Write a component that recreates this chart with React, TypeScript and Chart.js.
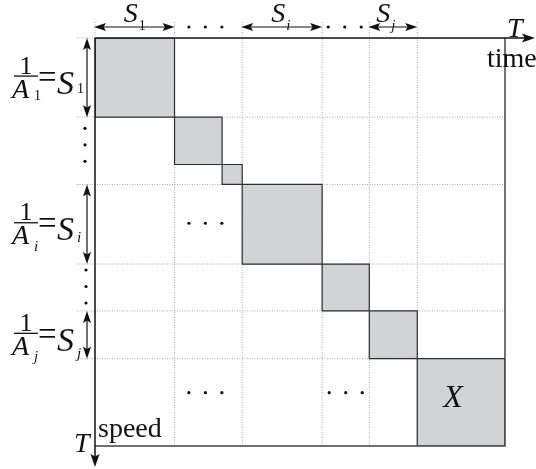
import { useEffect, useRef } from "react";
import { Chart, registerables } from "chart.js";

Chart.register(...registerables);

// Sizes of the diagonal blocks (time / speed units, total = T = 100)
const blockSizes = [19.4, 11.6, 4.9, 19.5, 11.5, 11.7, 21.4];
// Boundary indices that carry a dotted grid line
const gridBoundaries = [1, 3, 4, 5, 6];
// Blocks annotated with double arrows and their subscripts
const annotatedBlocks = [0, 3, 5];
const subscripts = ["1", "i", "j"];
const lastBlockLabel = "X";
const axisTime = "time";
const axisSpeed = "speed";
const axisSymbol = "T";

const boundaries: number[] = blockSizes.reduce(
  (acc: number[], s) => [...acc, acc[acc.length - 1] + s],
  [0]
);
const TOTAL = boundaries[boundaries.length - 1];

const SERIF = '"Liberation Serif", serif';

function arrowHead(
  ctx: CanvasRenderingContext2D,
  tx: number,
  ty: number,
  dx: number,
  dy: number,
  len: number,
  half: number
) {
  const px = -dy;
  const py = dx;
  ctx.beginPath();
  ctx.moveTo(tx, ty);
  ctx.lineTo(tx - dx * len + px * half, ty - dy * len + py * half);
  ctx.lineTo(tx - dx * len * 0.8, ty - dy * len * 0.8);
  ctx.lineTo(tx - dx * len - px * half, ty - dy * len - py * half);
  ctx.closePath();
  ctx.fill();
}

function dots(ctx: CanvasRenderingContext2D, cx: number, cy: number, horizontal: boolean) {
  const gap = 16.5;
  for (let k = -1; k <= 1; k++) {
    ctx.beginPath();
    ctx.arc(horizontal ? cx + k * gap : cx, horizontal ? cy : cy + k * gap, 1.6, 0, Math.PI * 2);
    ctx.fill();
  }
}

const subFont = (s: string) => (s === "1" ? `14px ${SERIF}` : `italic 15px ${SERIF}`);

const annotationPlugin = {
  id: "annotations",
  afterDatasetsDraw(chart: any) {
    const { ctx, scales } = chart;
    const X = (v: number) => scales.x.getPixelForValue(v);
    const Y = (v: number) => scales.y.getPixelForValue(v);
    const x0 = X(0);
    const y0 = Y(0);
    const W = chart.width;
    const H = chart.height;
    ctx.save();
    ctx.fillStyle = "#111";
    ctx.strokeStyle = "#111";

    // time axis (top) with arrow
    ctx.lineWidth = 1.5;
    ctx.beginPath();
    ctx.moveTo(x0, y0);
    ctx.lineTo(W - 10, y0);
    ctx.stroke();
    arrowHead(ctx, W - 1, y0, 1, 0, 13, 4.5);
    // speed axis (left) with arrow
    ctx.beginPath();
    ctx.moveTo(x0, y0);
    ctx.lineTo(x0, H - 10);
    ctx.stroke();
    arrowHead(ctx, x0, H - 2, 0, 1, 13, 4.5);

    // axis labels
    ctx.textBaseline = "alphabetic";
    ctx.textAlign = "left";
    ctx.font = `italic 28px ${SERIF}`;
    ctx.fillText(axisSymbol, X(TOTAL) + 2, y0 - 1);
    ctx.fillText(axisSymbol, x0 - 21, Y(TOTAL) + 6);
    ctx.font = `28px ${SERIF}`;
    ctx.fillText(axisTime, X(TOTAL) - 18, y0 + 29);
    ctx.fillText(axisSpeed, x0 + 3, Y(TOTAL) - 9);

    // top double arrows with S labels
    const topY = y0 - 11;
    const leftX = x0 - 8;
    const aSubDy: Record<string, number> = { "1": 22, i: 27, j: 26 };
    const sSubDy: Record<string, number> = { "1": 15, i: 18, j: 23 };
    ctx.lineWidth = 1.2;
    annotatedBlocks.forEach((bi, k) => {
      const a = X(boundaries[bi]);
      const b = X(boundaries[bi + 1]);
      ctx.beginPath();
      ctx.moveTo(a + 8, topY);
      ctx.lineTo(b - 8, topY);
      ctx.stroke();
      arrowHead(ctx, a - 1, topY, -1, 0, 12, 4);
      arrowHead(ctx, b, topY, 1, 0, 12, 4);
      const sub = subscripts[k];
      const cx = (a + b) / 2 - (k === 2 ? 10 : 4);
      ctx.font = `italic 28px ${SERIF}`;
      ctx.textAlign = "center";
      ctx.fillText("S", cx, topY - 5);
      ctx.textAlign = "left";
      ctx.font = subFont(sub);
      ctx.fillText(sub, cx + 8, topY + 3);

      // left double arrows with 1/A = S labels
      const ta = Y(boundaries[bi]);
      const tb = Y(boundaries[bi + 1]);
      ctx.beginPath();
      ctx.moveTo(leftX, ta + 8);
      ctx.lineTo(leftX, tb - 8);
      ctx.stroke();
      arrowHead(ctx, leftX, ta, 0, -1, 12, 4);
      arrowHead(ctx, leftX, tb, 0, 1, 12, 4);
      const ym = (ta + tb) / 2;
      ctx.font = `26px ${SERIF}`;
      ctx.textAlign = "center";
      ctx.fillText("1", 26, ym - 4);
      ctx.lineWidth = 1.3;
      ctx.beginPath();
      ctx.moveTo(14, ym - 1.5);
      ctx.lineTo(38, ym - 1.5);
      ctx.stroke();
      ctx.lineWidth = 1.2;
      ctx.textAlign = "left";
      ctx.font = `italic 28px ${SERIF}`;
      ctx.fillText("A", 12, ym + 20);
      ctx.font = subFont(sub);
      ctx.fillText(sub, 34, ym + aSubDy[sub]);
      ctx.font = `33px ${SERIF}`;
      ctx.fillText("=", 38, ym + 10);
      ctx.font = `italic 34px ${SERIF}`;
      ctx.fillText("S", 57, ym + 16);
      ctx.font = subFont(sub);
      ctx.fillText(sub, 77, ym + sSubDy[sub]);
    });

    // ellipses along the axes
    dots(ctx, (X(boundaries[1]) + X(boundaries[3])) / 2 - 3, topY, true);
    dots(ctx, (X(boundaries[4]) + X(boundaries[5])) / 2 - 1, topY, true);
    dots(ctx, x0 - 10, (Y(boundaries[1]) + Y(boundaries[3])) / 2 - 6, false);
    dots(ctx, x0 - 9, (Y(boundaries[4]) + Y(boundaries[5])) / 2 - 1, false);

    // ellipses inside the square
    const midCol = (X(boundaries[1]) + X(boundaries[3])) / 2 - 3;
    dots(ctx, midCol, (Y(boundaries[3]) + Y(boundaries[4])) / 2 - 1, true);
    dots(ctx, midCol, Y(boundaries[6]) + 34, true);
    dots(ctx, (X(boundaries[4]) + X(boundaries[5])) / 2, Y(boundaries[6]) + 34, true);

    // label of the last block
    ctx.font = `italic 32px ${SERIF}`;
    ctx.textAlign = "center";
    ctx.fillText(
      lastBlockLabel,
      (X(boundaries[6]) + X(boundaries[7])) / 2 - 8,
      (Y(boundaries[6]) + Y(boundaries[7])) / 2 + 5
    );
    ctx.restore();
  },
};

export default function App() {
  const ref = useRef<HTMLCanvasElement>(null);
  useEffect(() => {
    if (!ref.current) return;
    let chart: Chart | null = null;
    let cancelled = false;
    const overX = 4.4;
    const overY = 3.9;
    const datasets: any[] = [];
    blockSizes.forEach((_, i) => {
      const a = boundaries[i];
      const b = boundaries[i + 1];
      datasets.push({
        data: [
          { x: a, y: a },
          { x: b, y: a },
          { x: b, y: b },
          { x: a, y: b },
          { x: a, y: a },
        ],
        fill: "shape",
        backgroundColor: "#d1d3d4",
        borderColor: "#2e2e2e",
        borderWidth: 1.2,
        pointRadius: 0,
        tension: 0,
        order: 1,
      });
    });
    const gridStyle = {
      borderColor: "#a8a8a8",
      borderWidth: 1,
      borderDash: [1, 1.5],
      pointRadius: 0,
      fill: false,
      clip: false,
      order: 5,
    };
    gridBoundaries.forEach((gi) => {
      const v = boundaries[gi];
      datasets.push({ ...gridStyle, data: [{ x: v, y: -overY }, { x: v, y: TOTAL }] });
      datasets.push({ ...gridStyle, data: [{ x: -overX, y: v }, { x: TOTAL, y: v }] });
    });
    datasets.push({ ...gridStyle, data: [{ x: 0, y: -overY }, { x: 0, y: 0 }] });
    datasets.push({ ...gridStyle, data: [{ x: -overX, y: 0 }, { x: 0, y: 0 }] });
    datasets.push({
      data: [
        { x: TOTAL, y: 0 },
        { x: TOTAL, y: TOTAL },
        { x: 0, y: TOTAL },
      ],
      borderColor: "#444",
      borderWidth: 1.5,
      pointRadius: 0,
      fill: false,
      clip: false,
      order: 0,
    });

    const make = () => {
      if (cancelled || !ref.current) return;
      chart = new Chart(ref.current, {
        type: "line",
        data: { datasets },
        options: {
          responsive: false,
          animation: false,
          events: [],
          layout: { padding: { left: 95, top: 38, right: 31, bottom: 23 } },
          plugins: { legend: { display: false }, tooltip: { enabled: false } },
          scales: {
            x: { type: "linear", min: 0, max: TOTAL, display: false },
            y: { type: "linear", min: 0, max: TOTAL, reverse: true, display: false },
          },
        },
        plugins: [annotationPlugin],
      });
    };
    const fonts = (document as any).fonts;
    if (fonts && fonts.load) {
      Promise.all([
        fonts.load(`28px "Liberation Serif"`),
        fonts.load(`italic 28px "Liberation Serif"`),
      ])
        .catch(() => null)
        .then(make);
    } else {
      make();
    }
    return () => {
      cancelled = true;
      if (chart) chart.destroy();
    };
  }, []);
  return (
    <div style={{ position: "absolute", left: 0, top: 0, width: 536, height: 469, background: "#fff" }}>
      <canvas ref={ref} width={536} height={469} />
    </div>
  );
}
